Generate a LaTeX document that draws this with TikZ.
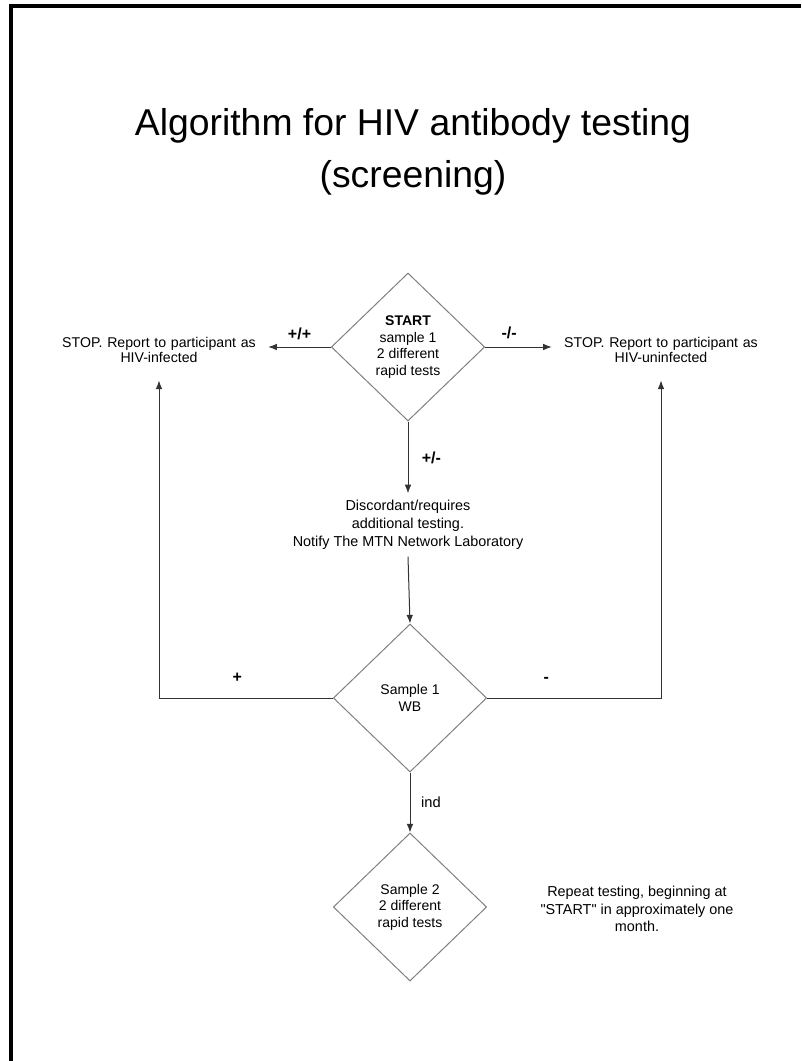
\documentclass[tikz,border=0pt]{standalone}
\usepackage{fontspec}
\setmainfont{Liberation Sans}[Ligatures=TeXOff]
\usetikzlibrary{arrows.meta,shapes.geometric,positioning}

\begin{document}
\begin{tikzpicture}[x=0.75pt,y=-0.75pt,>={Latex[length=6.5pt,width=5pt]},
                    decision/.style={diamond,draw=black!50,line width=0.75pt,minimum width=115pt,
                      minimum height=111pt,inner sep=0pt,align=center,font=\fontsize{10.5}{12.3}\selectfont},
                    stopnote/.style={align=center,text width=163.5pt,inner xsep=0pt,inner ysep=13pt,
                      font=\fontsize{10.6}{11.5}\selectfont},
                    note/.style={align=center,inner sep=5pt,font=\fontsize{10.8}{13.3}\selectfont},
                    link/.style={draw=black!80,line width=0.75pt},
                    lbl/.style={font=\fontsize{12}{14}\selectfont\bfseries,inner sep=2pt},
                    tag/.style={font=\fontsize{11}{13}\selectfont,inner sep=2pt}]
    \useasboundingbox (0,0) rectangle (801,1061);
    % page frame
    \draw[line width=3pt] (11,1061) -- (11,6) -- (801,6);

    \node[font=\fontsize{28}{39}\selectfont,align=center] (title) at (413,152)
        {Algorithm for HIV antibody testing\\(screening)};

    \node[decision] (start) at (408,347) {\textbf{START}\\sample 1\\2 different\\rapid tests};
    \node[stopnote] (infected) at (159,350) {STOP. Report to participant as\\HIV-infected};
    \node[stopnote] (uninfected) at (661,350) {STOP. Report to participant as\\HIV-uninfected};
    \node[note,font=\fontsize{10.8}{13.5}\selectfont] (discordant) at (408,525)
        {Discordant/requires\\additional testing.\\Notify The MTN Network Laboratory};

    \node[decision] (wb) at (410,698) {Sample 1\\WB};
    \node[decision] (sample2) at (410,907) {Sample 2\\2 different\\rapid tests};
    \node[note] (repeat) at (637,909)
        {Repeat testing, beginning at\\"START" in approximately one\\month.};

    \path[->]
    (start.west) edge[link] node[lbl,above=3pt] {+/+} (start.west -| infected.east)
    (start.east) edge[link] node[lbl,above=4pt,pos=0.36] {-/-} (start.east -| uninfected.west)
    (start.south) edge[link] node[lbl,right=8pt] {+/-} (discordant.north)

    (discordant.south) edge[link] (wb.north)
    (wb.south) edge[link] node[tag,right=6pt] {ind} (sample2.north);

    % WB results back to the stop notes
    \draw[->,link] (wb.west) -- node[lbl,above=9pt,pos=0.55] {+} (wb.west -| infected.south)
        -- (infected.south);
    \draw[->,link] (wb.east) -- node[lbl,above=9pt,pos=0.34] {-} (wb.east -| uninfected.south)
        -- (uninfected.south);
\end{tikzpicture}
\end{document}
